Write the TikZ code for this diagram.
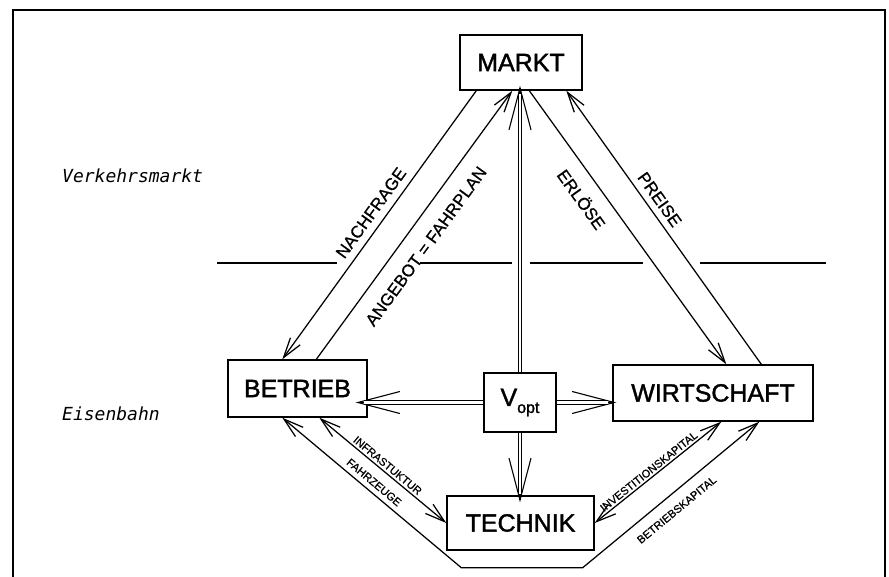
\documentclass[tikz,border=0pt]{standalone}
\usepackage{fontspec}
\setmainfont{Liberation Sans}
\newfontfamily\monofam{DejaVu Sans Mono}[ItalicFont={DejaVu Sans Mono Oblique}]
\newfontfamily\boxfont{Liberation Sans}[FakeBold=1.6]
\newfontfamily\labfont{Liberation Sans}[FakeBold=0.8]
\usetikzlibrary{arrows.meta,calc}
\begin{document}
\begin{tikzpicture}[x=1pt,y=-1pt,
  box/.style={draw, line width=1.4pt, inner sep=0pt, font=\boxfont\fontsize{25}{30}\selectfont},
  conn/.style={line width=1.25pt, >={Straight Barb[length=20pt,width=12pt]}},
  bigtip/.style={-{Straight Barb[length=42pt,width=22pt]}, line width=1.1pt},
  dbl/.style={double, double distance=2.6pt, line width=1pt},
  lab/.style={sloped, inner sep=0pt, font=\labfont\fontsize{17}{20}\selectfont, text height=12.2pt, text depth=0pt},
  slab/.style={sloped, inner sep=0pt, font=\labfont\fontsize{11}{13}\selectfont, text height=7.9pt, text depth=0pt},
  side/.style={anchor=base west, inner sep=0pt, font=\monofam\itshape\fontsize{18}{20}\selectfont}
]
\useasboundingbox (0,0) rectangle (889,577);
% frame
\draw[line width=1.5pt] (13,577) -- (13,10) -- (885,10) -- (885,577);
% divider
\draw[line width=1.1pt] (217,263) -- (337,263) (420,263) -- (512,263)
  (530,263) -- (643,263) (700,263) -- (826,263);
% side labels
\node[side] (vm) at (62,183) {Verkehrsmarkt};
\node[side] (eb) at (62,420) {Eisenbahn};
% boxes
\node[box, minimum width=122pt, minimum height=55pt] (m) at (521,62.5) {MARKT};
\node[box, minimum width=139pt, minimum height=57pt] (b) at (297.5,388.5) {BETRIEB};
\node[box, minimum width=72pt, minimum height=59pt] (v) at (520,402.5) {V\raisebox{-7pt}{\fontsize{16}{19}\selectfont opt}};
\node[box, minimum width=200pt, minimum height=56pt] (w) at (713,393) {WIRTSCHAFT};
\node[box, minimum width=147pt, minimum height=54pt] (t) at (520.5,523) {TECHNIK};
% double arrows from V_opt
\draw[bigtip, shorten >=-12pt] (v.west) -- (v.west -| b.east);
\draw[dbl, shorten >=-4pt] (v.west) -- (v.west -| b.east);
\draw[bigtip, shorten >=-4pt] (v.east) -- (v.east -| w.west);
\draw[dbl, shorten >=4pt] (v.east) -- (v.east -| w.west);
\draw[bigtip, shorten >=-5pt] (v.north) -- (v.north |- m.south);
\draw[dbl, shorten >=3pt] (v.north) -- (v.north |- m.south);
\draw[bigtip, shorten >=-7pt] (v.south) -- (v.south |- t.north);
\draw[dbl, shorten >=1pt] (v.south) -- (v.south |- t.north);
% market connectors
\draw[conn,->] ($(m.south west)+(17,0)$) -- node[lab, pos=0.485, above=7.4pt] {NACHFRAGE} ($(b.north west)+(55,0)$);
\draw[conn,->] ($(b.north west)+(89,0)$) -- node[lab, pos=0.469, below=15pt] {ANGEBOT = FAHRPLAN} ($(m.south west)+(53,0)$);
\draw[conn,->] ($(m.south west)+(70,0)$) -- node[lab, pos=0.352, below=14.7pt] {ERLÖSE} ($(w.north west)+(114,0)$);
\draw[conn,->] ($(w.north west)+(149,0)$) -- node[lab, pos=0.575, above=6.4pt] {PREISE} ($(m.south west)+(107,0)$);
% lower connectors
\draw[conn,<->] ($(b.south west)+(92,0)$) -- node[slab, pos=0.504, above=2.4pt] {INFRASTUKTUR} (t.west);
\coordinate (c1) at ($(t.south west)+(15,17)$);
\coordinate (c2) at ($(t.south east)+(-12,17)$);
\draw[conn,<->] ($(b.south west)+(55,0)$) -- node[slab, pos=0.479, above=5pt] {FAHRZEUGE} (c1)
  -- (c2) -- node[slab, pos=0.477, below=10.5pt] {BETRIEBSKAPITAL} ($(w.south west)+(147,0)$);
\draw[conn,<->] (t.east) -- node[slab, pos=0.459, above=2.1pt] {INVESTITIONSKAPITAL} ($(w.south west)+(109,0)$);
\end{tikzpicture}
\end{document}
